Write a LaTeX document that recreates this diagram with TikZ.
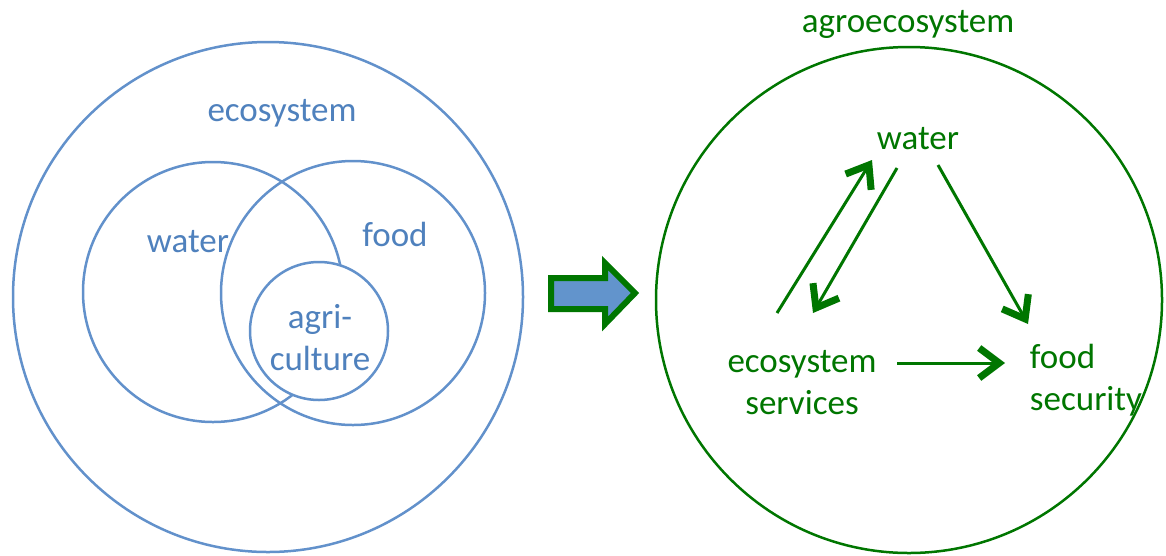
\documentclass[tikz,border=0pt]{standalone}
\usepackage{fontspec}
\setmainfont{Carlito}
\usetikzlibrary{positioning,arrows.meta}

\definecolor{ecoblue}{RGB}{79,129,189}
\definecolor{lineblue}{RGB}{98,145,203}
\definecolor{agrogreen}{RGB}{0,118,0}
\definecolor{arrowfill}{RGB}{98,148,204}

\begin{document}
\begin{tikzpicture}[x=1pt,y=1pt,
        lbl/.style={font=\fontsize{35}{42}\selectfont, inner sep=0pt, align=center},
        ring/.style={draw=lineblue, line width=2.5pt},
        link/.style={draw=agrogreen, line width=3pt,
            -{Straight Barb[length=20pt,width=30pt,line width=7pt]}}
    ]
    \useasboundingbox (0,0) rectangle (1166,-555);

    % left: ecosystem with water, food and agriculture
    \draw[ring] (268,-297) circle (255);
    \draw[ring] (213,-292) circle (130);
    \draw[ring] (353,-293) circle (132);
    \draw[ring, fill=white] (319,-331) circle (69);
    \node[lbl, text=ecoblue] (eco) at (282,-113) {ecosystem};
    \node[lbl, text=ecoblue] (wat) at (188,-242) {water};
    \node[lbl, text=ecoblue] (fod) at (395,-234) {food};
    \node[lbl, text=ecoblue] (agri) at (320,-338) {agri-\\culture};

    % block arrow
    \draw[draw=agrogreen, fill=arrowfill, line width=6pt, line join=miter]
        (551,-278) -- (605,-278) -- (605,-263) -- (635,-293)
        -- (605,-324) -- (605,-309) -- (551,-309) -- cycle;

    % right: agroecosystem
    \draw[draw=agrogreen, line width=2.5pt] (909,-300) circle (253);
    \node[lbl, text=agrogreen] (agro) at (908,-24) {agroecosystem};
    \node[lbl, text=agrogreen] (water) at (918,-139) {water};
    \node[lbl, text=agrogreen] (es) at (802,-383) {ecosystem\\services};
    \node[lbl, text=agrogreen, align=left] (fs) at (1086,-380) {food\\security};

    \draw[link] ([shift={(-25,70)}]es.center) -- ([shift={(-46,-21)}]water.center);
    \draw[link] ([shift={(-21,-29)}]water.center) -- ([shift={(11,70)}]es.center);
    \draw[link] ([shift={(20,-26)}]water.center) -- ([shift={(-58,56)}]fs.center);
    \draw[link] ([shift={(95,20)}]es.center) -- ([shift={(-81,17)}]fs.center);
\end{tikzpicture}
\end{document}
